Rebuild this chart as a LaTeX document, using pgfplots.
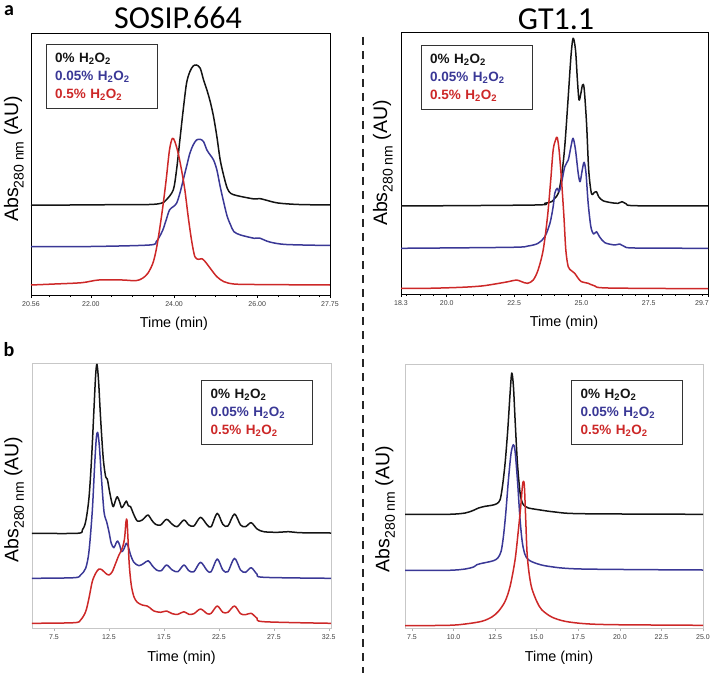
\documentclass[border=0pt]{standalone}
\usepackage{fontspec}
\setmainfont{Liberation Sans}
\newfontfamily\carlito{Carlito}
\usepackage{pgfplots}
\pgfplotsset{compat=1.18}
\definecolor{cblack}{RGB}{20,20,20}
\definecolor{cblue}{RGB}{58,56,150}
\definecolor{cred}{RGB}{205,40,40}
\pgfplotsset{
  chrom/.style={
    scale only axis, anchor=south west, ymin=0, ytick=\empty,
    xtick pos=left, tick align=outside,
    xticklabel style={font=\fontsize{7}{8}\selectfont, text=black!75},
    xlabel={Time (min)},
    xlabel style={font=\fontsize{14.4}{16}\selectfont, anchor=center},
    ylabel={Abs{\raisebox{-0.28em}{\fontsize{14}{14}\selectfont 280 nm}} (AU)},
    ylabel style={font=\fontsize{19.5}{21}\selectfont, anchor=center},
    every axis plot/.append style={line width=1.5pt, smooth, tension=0.5, line join=round},
  },
  dark/.style={axis line style={black, line width=0.8pt}, major tick length=3pt, minor tick length=2pt, every tick/.style={black, line width=0.6pt}},
  light/.style={axis line style={black!22, line width=0.8pt}, major tick length=3pt, every tick/.style={black!30, line width=0.6pt}},
}
\newcommand{\leg}{\textcolor{cblack}{0\% H\textsubscript{2}O\textsubscript{2}}\\\textcolor{cblue}{0.05\% H\textsubscript{2}O\textsubscript{2}}\\\textcolor{cred}{0.5\% H\textsubscript{2}O\textsubscript{2}}}
\tikzset{legbox/.style={draw=black!80, line width=1pt, fill=white, minimum width=111pt, minimum height=64pt, inner xsep=9pt, text width=93pt, align=left, font=\bfseries\fontsize{13.5}{18}\selectfont}}
\begin{document}
\begin{tikzpicture}
\useasboundingbox (0pt,0pt) rectangle (711pt,673pt);
% ---------- top left ----------
\begin{axis}[chrom, dark, at={(31pt,378pt)}, width=299pt, height=262pt,
  xmin=20.56, xmax=27.75, ymax=262,
  xtick={20.56,22,24,26,27.75}, xticklabels={20.56,22.00,24.00,26.00,27.75},
  minor xtick={21,21.5,22.5,23,23.5,24.5,25,25.5,26.5,27,27.5},
  xlabel style={at={(axis description cs:0.478,-0.111)}},
  ylabel style={at={(axis description cs:-0.057,0.52)}}]
\addplot[cblack] coordinates {(20.56,90)(21.5,90)(22.5,90.3)(23.4,90.5)(23.69,91.7)(23.81,95)(23.98,105)(24.06,125)(24.14,155)(24.22,185)(24.30,211.7)(24.38,223.3)(24.46,229)(24.54,230)(24.63,226.7)(24.71,215)(24.79,205)(24.87,193.3)(24.95,178.3)(25.03,158.3)(25.11,135)(25.20,118.3)(25.28,106.7)(25.36,101.7)(25.52,99.3)(25.93,96)(26.05,96.5)(26.2,95)(26.5,92)(27.0,90.5)(27.75,90)};
\addplot[cblue] coordinates {(20.56,48.3)(22,48.5)(23.41,50)(23.57,53.3)(23.65,58.3)(23.73,65)(23.81,75)(23.89,85)(23.98,88.3)(24.06,91.7)(24.14,101.7)(24.22,115)(24.30,128.3)(24.38,141.7)(24.46,150)(24.54,155)(24.63,155.7)(24.71,153.3)(24.79,145)(24.87,140)(24.95,135)(25.03,125)(25.11,108.3)(25.20,91.7)(25.28,78.3)(25.36,70)(25.44,63.3)(25.60,60)(25.93,56.7)(26.05,57)(26.3,53)(26.7,50.5)(27.75,49.5)};
\addplot[cred] coordinates {(20.56,10)(21.13,11)(21.78,12.3)(22.19,15)(22.76,15)(23.08,14.3)(23.24,16.7)(23.37,21.7)(23.49,31.7)(23.57,45)(23.65,65)(23.73,88.3)(23.81,115)(23.89,145)(23.96,156.7)(24.02,153.3)(24.10,141.7)(24.18,125)(24.26,105)(24.34,78.3)(24.42,55)(24.50,38.3)(24.59,35.7)(24.67,36.3)(24.75,33.3)(24.87,26.7)(25.03,18.3)(25.20,13.3)(25.44,11)(25.93,10.5)(27.75,10)};
\end{axis}
% ---------- top right ----------
\begin{axis}[chrom, dark, at={(401pt,379pt)}, width=307pt, height=262pt,
  xmin=18.3, xmax=29.7, ymax=262,
  xtick={18.3,20,22.5,25,27.5,29.7}, xticklabels={18.3,20.0,22.5,25.0,27.5,\hspace*{-12pt}29.7},
  minor xtick={18.5,19,19.5,20.5,21,21.5,22,23,23.5,24,24.5,25.5,26,26.5,27,28,28.5,29,29.5},
  xlabel style={at={(axis description cs:0.531,-0.111)}},
  ylabel style={at={(axis description cs:-0.059,0.5)}}]
\addplot[cblack] coordinates {(18.3,88)(23.27,89)(23.64,90.7)(23.89,92.3)(24.01,95.7)(24.14,100.7)(24.26,117.3)(24.38,147.3)(24.51,197.3)(24.61,237.3)(24.69,255.7)(24.78,244)(24.85,214)(24.91,194)(24.98,200.7)(25.04,209)(25.10,205.7)(25.19,170.7)(25.27,124)(25.37,100.7)(25.47,101.3)(25.56,102.3)(25.64,97.3)(25.80,93.3)(26.11,91.3)(26.36,90.7)(26.51,92.3)(26.67,90)(26.98,88.3)(29.7,88)};
\addplot[cblue] coordinates {(18.3,45.7)(22.40,46.7)(23.02,48)(23.39,50.7)(23.64,57.3)(23.83,70.7)(23.95,87.3)(24.01,100.7)(24.10,105.7)(24.17,102.3)(24.26,110.7)(24.38,127.3)(24.51,134)(24.61,147.3)(24.69,155.7)(24.78,144)(24.88,120.7)(24.95,112.3)(25.03,124)(25.10,131.7)(25.17,120.7)(25.25,90.7)(25.35,67.3)(25.45,60)(25.56,62.3)(25.67,57.3)(25.87,51.3)(26.24,49)(26.42,50)(26.61,47.3)(26.98,46)(29.7,45.7)};
\addplot[cred] coordinates {(18.3,5.7)(19.31,5.7)(20.55,6.7)(21.29,8)(21.79,10)(22.28,12.3)(22.59,14)(22.78,12.3)(23.0,10.7)(23.21,14)(23.39,24)(23.58,44)(23.74,77.3)(23.86,114)(23.95,144)(24.04,154)(24.10,156.7)(24.17,144)(24.26,114)(24.35,77.3)(24.42,44)(24.51,27.3)(24.63,23.3)(24.75,20.7)(24.88,15.7)(25.0,12.3)(25.25,10.7)(25.50,8)(25.99,6)(29.7,5.3)};
\end{axis}
% ---------- bottom left ----------
\begin{axis}[chrom, light, at={(32pt,45pt)}, width=299pt, height=265pt,
  xmin=5.5, xmax=32.7, ymax=265,
  xtick={7.5,12.5,17.5,22.5,27.5,32.5}, xticklabels={7.5,12.5,17.5,22.5,27.5,32.5},
  xlabel style={at={(axis description cs:0.5,-0.113)}},
  ylabel style={at={(axis description cs:-0.06,0.485)}}]
\addplot[cblack] coordinates {(5.44,94.7)(9.62,94.7)(10.08,98)(10.38,106.3)(10.68,129.7)(10.92,169.7)(11.14,219.7)(11.29,253)(11.41,263.7)(11.56,246.3)(11.74,209.7)(11.98,169.7)(12.20,151.3)(12.35,149)(12.53,138)(12.71,128)(12.89,121.3)(13.11,128)(13.26,131.3)(13.47,126.3)(13.65,120.3)(13.86,123)(14.08,127)(14.26,122.3)(14.47,121.3)(14.71,114.7)(15.08,107)(15.53,108)(15.83,111.3)(16.08,113)(16.38,108)(16.74,103.7)(17.20,103)(17.74,108.7)(18.26,103.7)(18.71,101.3)(19.32,108)(19.77,103)(20.23,102)(20.83,110.7)(21.44,103)(21.80,101.3)(22.35,114.7)(22.86,103.7)(23.32,102)(23.92,114)(24.47,103)(24.92,101.3)(25.44,105.3)(25.98,99)(26.59,96.3)(27.80,95.7)(28.86,96.3)(29.92,95.3)(32.7,95)};
\addplot[cblue] coordinates {(5.44,49.7)(9.32,50.3)(9.92,53)(10.38,59.7)(10.68,76.3)(10.98,116.3)(11.20,163)(11.35,189.7)(11.47,195.7)(11.62,183)(11.80,153)(12.05,116.3)(12.29,106.3)(12.50,96.3)(12.71,84.7)(12.95,80.3)(13.14,84.7)(13.29,87)(13.47,83)(13.65,76.3)(13.86,79)(14.08,84.7)(14.26,81.3)(14.47,73)(14.77,65.7)(15.23,62.3)(15.68,64.7)(16.08,67.3)(16.44,62.3)(16.83,58)(17.26,57.3)(17.74,63)(18.26,58)(18.77,56.3)(19.32,63)(19.77,57.3)(20.23,56.3)(20.83,65.7)(21.44,57.3)(21.80,56.3)(22.35,69)(22.86,58)(23.32,56.3)(23.92,69.7)(24.47,58)(24.92,55.7)(25.44,60.3)(25.98,53.7)(26.59,50.7)(32.7,49.7)};
\addplot[cred] coordinates {(5.44,4.7)(9.32,5.3)(9.92,8)(10.38,16.3)(10.68,29.7)(10.98,46.3)(11.29,54.7)(11.59,59)(11.89,58)(12.20,54.7)(12.50,53)(12.80,56.3)(13.11,64.7)(13.41,73)(13.71,79.7)(13.92,89.7)(14.05,106.3)(14.14,108)(14.23,89.7)(14.35,63)(14.53,43)(14.77,31.3)(15.08,25.7)(15.53,23)(15.98,22)(16.22,20.3)(16.59,17)(17.20,15.7)(17.74,17)(18.26,14.3)(18.77,13.7)(19.32,16.3)(19.77,13.7)(20.23,14.3)(20.83,19)(21.44,14.3)(21.80,14.7)(22.35,22)(22.86,15.7)(23.32,15.7)(23.92,22)(24.47,14.3)(24.92,13.3)(25.44,14.7)(25.98,9.7)(26.59,6.3)(32.7,4.7)};
\end{axis}
% ---------- bottom right ----------
\begin{axis}[chrom, light, at={(405pt,45pt)}, width=298pt, height=264pt,
  xmin=7.08, xmax=25, ymax=264,
  xtick={7.5,10,12.5,15,17.5,20,22.5,25}, xticklabels={7.5,10.0,12.5,15.0,17.5,20.0,22.5,25.0},
  xlabel style={at={(axis description cs:0.517,-0.114)}},
  ylabel style={at={(axis description cs:-0.067,0.45)}}]
\addplot[cblack] coordinates {(7.06,113.7)(9.7,113.7)(10.7,115)(11.2,117.7)(11.5,120)(11.9,121.7)(12.3,122.7)(12.6,124.3)(12.8,128.3)(12.94,141.7)(13.1,165)(13.26,198.3)(13.4,235)(13.5,255)(13.6,241.7)(13.7,208.3)(13.84,165)(14.0,135)(14.14,125)(14.3,121.7)(14.5,120)(15.1,118.3)(16.1,116)(17.7,114.3)(25,113.7)};
\addplot[cblue] coordinates {(7.06,57.7)(9.7,57.7)(10.7,59)(11.2,61)(11.4,63.3)(11.6,64.3)(12.0,65.7)(12.4,67.3)(12.66,70)(12.86,76.7)(13.0,91.7)(13.14,115)(13.3,148.3)(13.46,175)(13.6,183.3)(13.7,176.7)(13.84,148.3)(14.0,108.3)(14.14,85)(14.3,73.3)(14.5,68.3)(14.9,65)(15.7,61.7)(17.7,59)(25,58)};
\addplot[cred] coordinates {(7.06,2.3)(9.7,2.7)(10.7,4)(11.7,6.7)(12.3,11)(12.7,16.7)(13.1,26.7)(13.4,41.7)(13.7,68.3)(13.9,98.3)(14.04,121.7)(14.14,141.7)(14.2,146.7)(14.26,141.7)(14.34,108.3)(14.42,75)(14.54,55)(14.7,40)(15.0,26.7)(15.3,18.3)(15.9,11)(16.7,6.7)(17.9,4.3)(19.7,3.3)(25,2.7)};
\end{axis}
% ---------- legends ----------
\node[legbox] at (101.5pt,596pt) {\leg};
\node[legbox] at (476.5pt,595.5pt) {\leg};
\node[legbox] at (257pt,260.5pt) {\leg};
\node[legbox] at (627pt,260.5pt) {\leg};
% ---------- titles, panel letters, separator ----------
\node[font=\carlito\fontsize{32}{36}\selectfont] at (178pt,655pt) {SOSIP.664};
\node[font=\carlito\fontsize{32}{36}\selectfont] at (556pt,654pt) {GT1.1};
\node[font=\carlito\bfseries\fontsize{20}{22}\selectfont] at (9pt,662pt) {a};
\node[font=\carlito\bfseries\fontsize{20}{22}\selectfont] at (9pt,323pt) {b};
\draw[black!85, line width=2.6pt, dash pattern=on 8pt off 6pt] (363pt,636pt) -- (363pt,0pt);
\end{tikzpicture}
\end{document}
